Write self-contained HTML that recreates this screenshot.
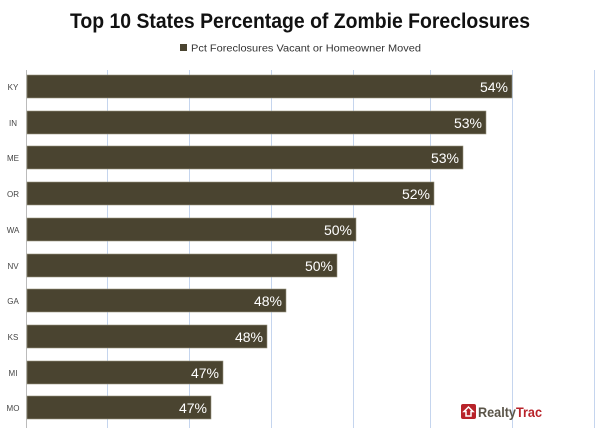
<!DOCTYPE html>
<html><head><style>
body{margin:0;width:600px;height:434px;background:#fff;overflow:hidden;font-family:"Liberation Sans",sans-serif;}
</style></head><body>
<svg width="600" height="434" xmlns="http://www.w3.org/2000/svg" font-family="Liberation Sans, sans-serif">
<text x="300" y="28" text-anchor="middle" font-size="21" font-weight="bold" fill="#111" textLength="460" lengthAdjust="spacingAndGlyphs">Top 10 States Percentage of Zombie Foreclosures</text>
<rect x="180" y="44" width="7" height="7" fill="#4a4430"/>
<text x="191" y="51.5" font-size="10" fill="#333" textLength="230" lengthAdjust="spacingAndGlyphs">Pct Foreclosures Vacant or Homeowner Moved</text>
<g stroke="#c5d5ee" stroke-width="1">
<line x1="107.5" y1="70" x2="107.5" y2="428"/><line x1="189.5" y1="70" x2="189.5" y2="428"/>
<line x1="271.5" y1="70" x2="271.5" y2="428"/><line x1="353.5" y1="70" x2="353.5" y2="428"/>
<line x1="430.5" y1="70" x2="430.5" y2="428"/><line x1="512.5" y1="70" x2="512.5" y2="428"/>
<line x1="594.5" y1="70" x2="594.5" y2="428"/>
</g>
<line x1="26.5" y1="70" x2="26.5" y2="428" stroke="#bbb"/>
<g fill="#4a4430" stroke="#9a9580" stroke-width="0.6">
<rect x="27" y="75" width="485" height="23"/>
<rect x="27" y="111" width="459" height="23"/>
<rect x="27" y="146" width="436" height="23"/>
<rect x="27" y="182" width="407" height="23"/>
<rect x="27" y="218" width="329" height="23"/>
<rect x="27" y="254" width="310" height="23"/>
<rect x="27" y="289" width="259" height="23"/>
<rect x="27" y="325" width="240" height="23"/>
<rect x="27" y="361" width="196" height="23"/>
<rect x="27" y="396" width="184" height="23"/>
</g>
<g fill="#fff" font-size="14" text-anchor="end">
<text x="508" y="92">54%</text><text x="482" y="128">53%</text><text x="459" y="163">53%</text>
<text x="430" y="199">52%</text><text x="352" y="235">50%</text><text x="333" y="271">50%</text>
<text x="282" y="306">48%</text><text x="263" y="342">48%</text><text x="219" y="378">47%</text>
<text x="207" y="413">47%</text>
</g>
<g fill="#444" font-size="8" text-anchor="middle">
<text x="13" y="90">KY</text><text x="13" y="126">IN</text><text x="13" y="161">ME</text>
<text x="13" y="197">OR</text><text x="13" y="233">WA</text><text x="13" y="269">NV</text>
<text x="13" y="304">GA</text><text x="13" y="340">KS</text><text x="13" y="376">MI</text>
<text x="13" y="411">MO</text>
</g>
<rect x="461" y="404" width="15" height="15" rx="2" fill="#b8232a"/>
<path d="M468.5 407 L473 411.5 L471 411.5 L471 416 L466 416 L466 411.5 L464 411.5 Z" fill="none" stroke="#fff" stroke-width="1.5"/>
<text x="478" y="417" font-size="14" font-weight="bold" fill="#5a5448" textLength="64" lengthAdjust="spacingAndGlyphs">Realty<tspan fill="#b8232a">Trac</tspan></text>
</svg>
</body></html>
